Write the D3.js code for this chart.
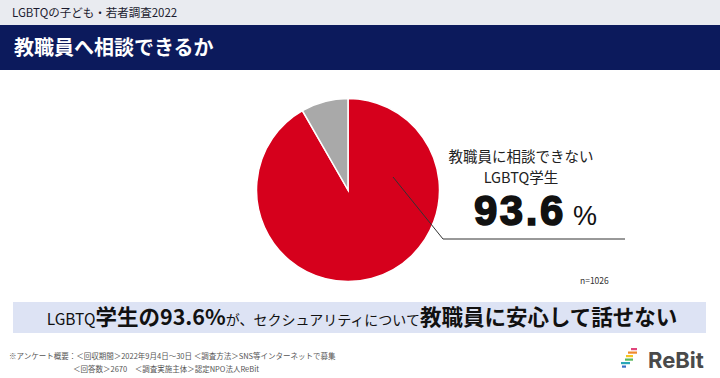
<!DOCTYPE html>
<html>
<head>
<meta charset="utf-8">
<script src="https://cdn.jsdelivr.net/npm/d3@7"></script>
<style>
  body { margin: 0; background: #fff; }
  svg { display: block; font-family: "Noto Sans CJK JP", "Noto Sans", sans-serif; }
</style>
</head>
<body>
<svg width="720" height="378"></svg>
<script>
// data
var categories = ["教職員に相談できない", "相談できる"];
var shares = [91.7, 8.3];           // slice sizes as drawn
var headline = "93.6";
var sampleSize = "n=1026";
var colors = ["#d6001c", "#a9a9a9"];

var svg = d3.select("svg");
var width = 720, height = 378;

// header bars
svg.append("rect").attr("x", 0).attr("y", 0).attr("width", width).attr("height", 25).attr("fill", "#e9ebf0");
svg.append("text").attr("x", 12).attr("y", 17).attr("font-size", 11.5).attr("fill", "#1a1a2e")
  .text("LGBTQの子ども・若者調査2022");
svg.append("rect").attr("x", 0).attr("y", 25).attr("width", width).attr("height", 45).attr("fill", "#0c1a5c");
svg.append("text").attr("x", 14).attr("y", 55).attr("font-size", 20).attr("font-weight", "bold").attr("fill", "#fff")
  .text("教職員へ相談できるか");

// pie
var cx = 348, cy = 190, r = 91.5;
var pie = d3.pie().sort(null)(shares);
var arc = d3.arc().innerRadius(0).outerRadius(r);
var g = svg.append("g").attr("transform", "translate(" + cx + "," + cy + ")");
g.selectAll("path")
  .data(pie)
  .enter()
  .append("path")
  .attr("d", arc)
  .attr("fill", function(d, i) { return colors[i]; })
  .attr("stroke", "#fff")
  .attr("stroke-width", 1.5);

// leader line
svg.append("polyline")
  .attr("points", "393,177 443,239 625,239")
  .attr("fill", "none").attr("stroke", "#333").attr("stroke-width", 1);

// callout label
svg.append("text").attr("x", 521).attr("y", 162).attr("text-anchor", "middle").attr("font-size", 14.5).attr("fill", "#222")
  .text(categories[0]);
svg.append("text").attr("x", 521).attr("y", 183).attr("text-anchor", "middle").attr("font-size", 14.5).attr("fill", "#222")
  .text("LGBTQ学生");
svg.append("text").attr("x", 474).attr("y", 225).attr("font-size", 42).attr("font-weight", "bold")
  .attr("font-family", "'Liberation Sans', Arial, sans-serif").attr("fill", "#111")
  .attr("stroke", "#111").attr("stroke-width", 1.6).attr("letter-spacing", 2.5)
  .text(headline);
svg.append("text").attr("x", 573).attr("y", 225).attr("font-size", 27).attr("fill", "#111")
  .attr("font-family", "'Liberation Sans', Arial, sans-serif")
  .text("%");

svg.append("text").attr("x", 580).attr("y", 284).attr("font-size", 8.5).attr("fill", "#333").text(sampleSize);

// summary banner
svg.append("rect").attr("x", 13).attr("y", 302).attr("width", 693).attr("height", 31).attr("fill", "#dde3f4");
var banner = svg.append("text").attr("x", 362).attr("y", 325).attr("text-anchor", "middle").attr("fill", "#111");
var parts = [
  ["LGBTQ", 15.5, "normal"],
  ["学生の" + headline + "%", 21.5, "bold"],
  ["が、セクシュアリティについて", 14, "normal"],
  ["教職員に安心して話せない", 21.5, "bold"]
];
parts.forEach(function(p) {
  banner.append("tspan").attr("font-size", p[1]).attr("font-weight", p[2]).text(p[0]);
});

// footnote
var foot = svg.append("g").attr("font-size", 7.5).attr("fill", "#555");
foot.append("text").attr("x", 9).attr("y", 359)
  .text("※アンケート概要：＜回収期間＞2022年9月4日〜30日 ＜調査方法＞SNS等インターネットで募集");
foot.append("text").attr("x", 73).attr("y", 372)
  .text("＜回答数＞2670　＜調査実施主体＞認定NPO法人ReBit");

// logo
var bars = [
  [631, 348, 6, "#e0457b"],
  [628, 351.5, 9, "#f08a2c"],
  [626, 355, 7, "#f5c520"],
  [625, 358.5, 8, "#5cb85c"],
  [621, 362, 9, "#2aa7b8"],
  [622, 365.5, 4, "#3a6fc4"]
];
svg.append("g").selectAll("rect").data(bars).enter().append("rect")
  .attr("x", function(d) { return d[0]; }).attr("y", function(d) { return d[1]; })
  .attr("width", function(d) { return d[2]; }).attr("height", 2.2)
  .attr("fill", function(d) { return d[3]; });
svg.append("text").attr("x", 648).attr("y", 368).attr("font-size", 22).attr("font-weight", "bold")
  .attr("font-family", "Inter, 'Noto Sans', sans-serif").attr("fill", "#4a4a4a").text("ReBit");
</script>
</body>
</html>
